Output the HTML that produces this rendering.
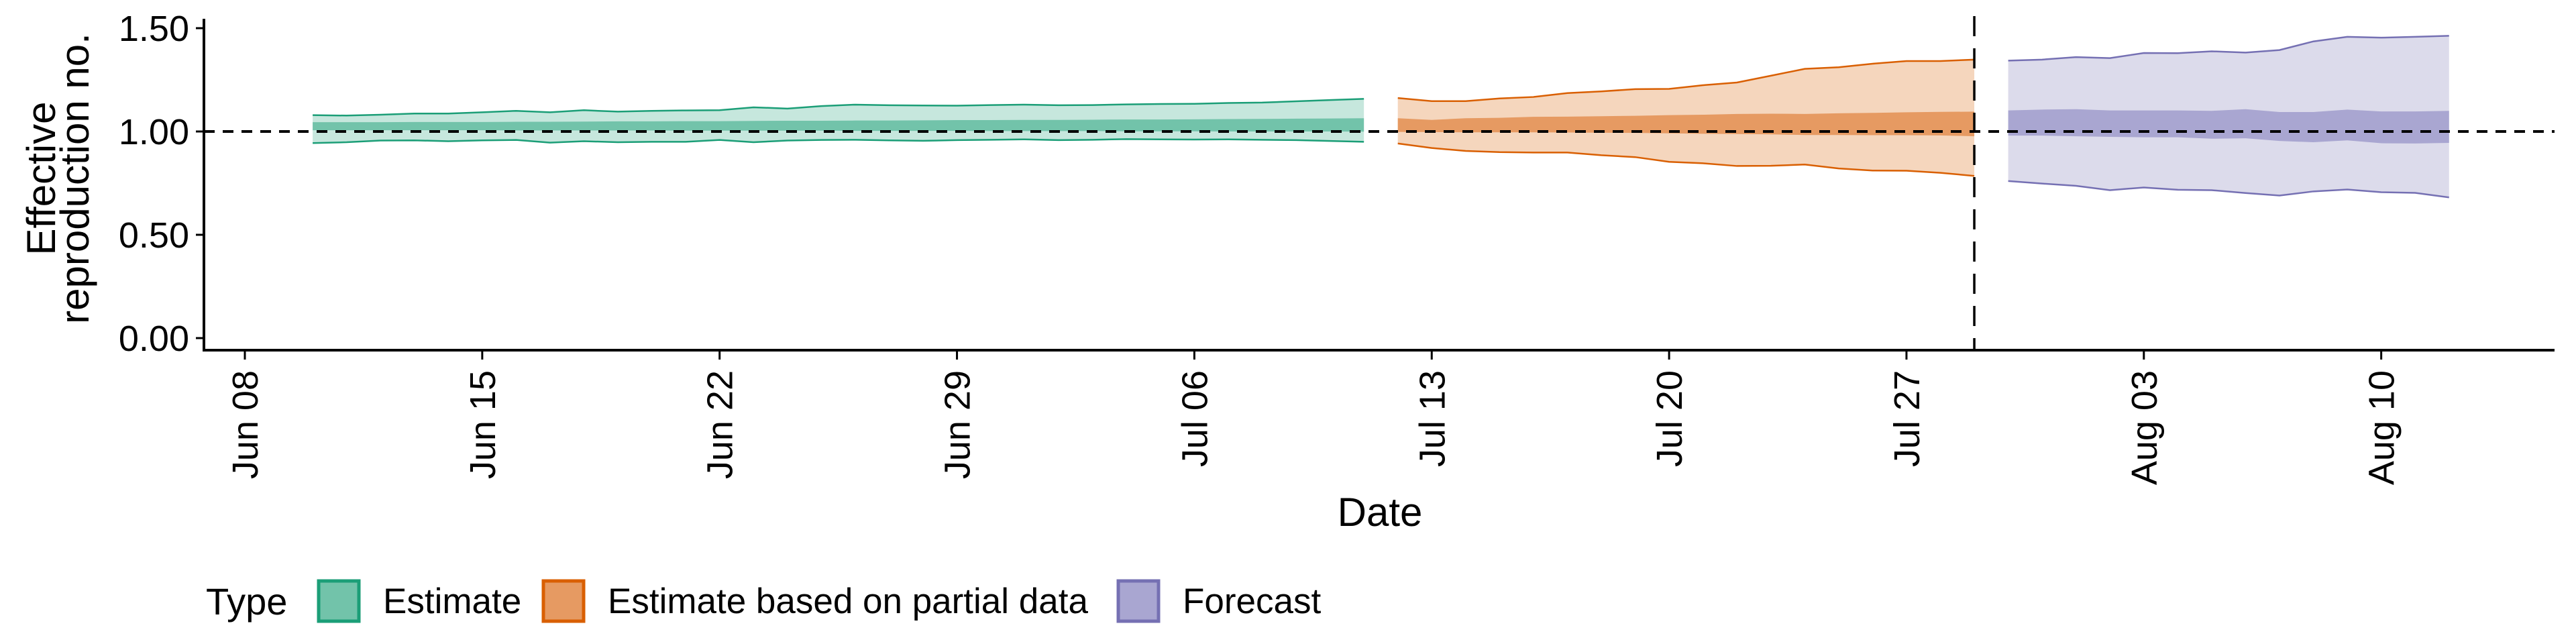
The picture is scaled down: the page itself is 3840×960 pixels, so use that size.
<!DOCTYPE html>
<html><head><meta charset="utf-8"><style>
html,body{margin:0;padding:0;background:#fff;}
svg{display:block;font-family:"Liberation Sans",sans-serif;}
</style></head><body>
<svg id="chart" width="3840" height="960" viewBox="0 0 3840 960">
<g id="bands"></g>
<g id="axes"></g>
<g id="legend"></g>
</svg>
<script>
const startDate = Date.UTC(2020,5,8); // Jun 08
const tickLabels = ["Jun 08","Jun 15","Jun 22","Jun 29","Jul 06","Jul 13","Jul 20","Jul 27","Aug 03","Aug 10"];
const yTicks = [0,0.5,1.0,1.5];
const yTickLabels = ["0.00","0.50","1.00","1.50"];
const estimateStartDay = 2;
const estimateUpper = [1.079,1.077,1.081,1.087,1.087,1.093,1.100,1.093,1.103,1.096,1.100,1.102,1.103,1.117,1.111,1.123,1.130,1.127,1.126,1.125,1.128,1.130,1.127,1.128,1.131,1.133,1.134,1.138,1.140,1.146,1.152,1.158];
const estimateLower = [0.944,0.948,0.956,0.957,0.953,0.957,0.959,0.946,0.953,0.948,0.950,0.950,0.959,0.948,0.956,0.959,0.960,0.957,0.955,0.958,0.960,0.962,0.958,0.960,0.963,0.962,0.961,0.962,0.960,0.958,0.954,0.950];
const estimateInnerUpper = [1.045,1.045,1.045,1.046,1.046,1.046,1.047,1.047,1.048,1.049,1.049,1.050,1.050,1.051,1.052,1.052,1.053,1.053,1.054,1.055,1.055,1.056,1.056,1.057,1.058,1.058,1.059,1.060,1.061,1.062,1.063,1.064];
const estimateInnerLower = [1.006,1.006,1.006,1.006,1.006,1.006,1.005,1.005,1.005,1.005,1.005,1.004,1.004,1.004,1.004,1.004,1.003,1.003,1.003,1.003,1.002,1.002,1.002,1.002,1.001,1.001,1.001,1.000,1.000,1.000,1.000,0.999];
const partialStartDay = 34;
const partialUpper = [1.162,1.147,1.147,1.160,1.167,1.186,1.194,1.205,1.206,1.224,1.237,1.270,1.303,1.311,1.328,1.341,1.341,1.348];
const partialLower = [0.942,0.920,0.906,0.900,0.898,0.898,0.885,0.876,0.853,0.846,0.833,0.834,0.840,0.821,0.811,0.810,0.800,0.785];
const partialInnerUpper = [1.064,1.056,1.064,1.066,1.071,1.072,1.074,1.076,1.079,1.081,1.085,1.086,1.085,1.088,1.090,1.093,1.095,1.096];
const partialInnerLower = [0.998,0.997,0.996,0.996,0.996,0.995,0.994,0.993,0.991,0.989,0.988,0.986,0.983,0.983,0.982,0.982,0.981,0.977];
const forecastStartDay = 52;
const forecastUpper = [1.343,1.348,1.360,1.355,1.380,1.379,1.388,1.382,1.394,1.436,1.458,1.454,1.458,1.463];
const forecastLower = [0.760,0.748,0.737,0.716,0.729,0.718,0.716,0.702,0.690,0.710,0.719,0.706,0.703,0.681];
const forecastInnerUpper = [1.102,1.106,1.108,1.102,1.102,1.102,1.100,1.108,1.094,1.094,1.106,1.097,1.097,1.100];
const forecastInnerLower = [0.980,0.980,0.977,0.974,0.972,0.972,0.965,0.967,0.954,0.948,0.957,0.943,0.942,0.945];
const forecastCutDay = 51;

const NS="http://www.w3.org/2000/svg";
const X0=365, DAYW=50.55, Y0=504, YU=308;
const xs=d=>X0+d*DAYW;
const ys=v=>Y0-v*YU;
function mk(tag,attrs,parent){const e=document.createElementNS(NS,tag);for(const k in attrs)e.setAttribute(k,attrs[k]);parent.appendChild(e);return e;}
const bands=document.getElementById('bands'), axes=document.getElementById('axes'), legend=document.getElementById('legend');

function band(start,up,lo,fill,parent){
  let p=up.map((v,i)=>xs(start+i)+','+ys(v));
  for(let i=lo.length-1;i>=0;i--)p.push(xs(start+i)+','+ys(lo[i]));
  return mk('polygon',{points:p.join(' '),fill:fill},parent);
}
function line(start,vals,col,parent){
  return mk('polyline',{points:vals.map((v,i)=>xs(start+i)+','+ys(v)).join(' '),fill:'none',stroke:col,'stroke-width':2.5},parent);
}
const series=[
 {n:'estimate',s:estimateStartDay,u:estimateUpper,l:estimateLower,iu:estimateInnerUpper,il:estimateInnerLower,o:'#c6e7dd',i:'#72c3aa',c:'#1b9e77'},
 {n:'partial',s:partialStartDay,u:partialUpper,l:partialLower,iu:partialInnerUpper,il:partialInnerLower,o:'#f5d6bd',i:'#e69a62',c:'#d95f02'},
 {n:'forecast',s:forecastStartDay,u:forecastUpper,l:forecastLower,iu:forecastInnerUpper,il:forecastInnerLower,o:'#dcdbeb',i:'#a9a6d1',c:'#7570b3'}
];
series.forEach(S=>{
  const g=mk('g',{},bands);
  
  
  const a=band(S.s,S.u,S.l,S.o,g);
  
  
  const b=band(S.s,S.iu,S.il,S.i,g);
  
  
  const u=line(S.s,S.u,S.c,g);
  
  
  const l=line(S.s,S.l,S.c,g);
  
  
});
const h=mk('line',{x1:304,x2:3808,y1:ys(1),y2:ys(1),stroke:'#000','stroke-width':4,'stroke-dasharray':'16 12'},axes);


const v=mk('line',{x1:xs(forecastCutDay),x2:xs(forecastCutDay),y1:24,y2:522,stroke:'#000','stroke-width':3.5,'stroke-dasharray':'30 18'},axes);


const ya=mk('line',{x1:304,x2:304,y1:28,y2:524,stroke:'#000','stroke-width':4},axes);


const xa=mk('line',{x1:302,x2:3808,y1:522,y2:522,stroke:'#000','stroke-width':4},axes);


yTicks.forEach((t,i)=>{
  const tk=mk('line',{x1:292,x2:304,y1:ys(t),y2:ys(t),stroke:'#000','stroke-width':3},axes);
  
  
  const tx=mk('text',{x:282,y:ys(t)+19,'text-anchor':'end','font-size':54,fill:'#000'},axes);
  tx.textContent=yTickLabels[i];
  
  
});
tickLabels.forEach((lab,i)=>{
  const x=xs(i*7);
  const tk=mk('line',{x1:x,x2:x,y1:524,y2:536,stroke:'#000','stroke-width':3},axes);
  
  
  const tx=mk('text',{x:0,y:0,'text-anchor':'end','font-size':54,fill:'#000',transform:`translate(${x+19},552) rotate(-90)`},axes);
  tx.textContent=lab;
  
  
});
const xt=mk('text',{x:2057,y:784,'text-anchor':'middle','font-size':60,fill:'#000'},axes);
xt.textContent='Date';


const yt=mk('text',{transform:'translate(0,266) rotate(-90)','text-anchor':'middle','font-size':60,fill:'#000'},axes);


const t1=mk('tspan',{x:0,y:82},yt);t1.textContent='Effective';
const t2=mk('tspan',{x:0,y:132},yt);t2.textContent='reproduction no.';
const lt=mk('text',{x:307,y:916,'font-size':56,fill:'#000'},legend);
lt.textContent='Type';


const legItems=[['Estimate',473,'#72c3aa','#1b9e77'],['Estimate based on partial data',808,'#e69a62','#d95f02'],['Forecast',1665,'#a9a6d1','#7570b3']];
legItems.forEach(it=>{
  const g=mk('g',{},legend);
  
  
  const r=mk('rect',{x:it[1]+2,y:866,width:60,height:60,fill:it[2],stroke:it[3],'stroke-width':5},g);
  
  
  const t=mk('text',{x:it[1]+98,y:914,'font-size':53,fill:'#000'},g);
  t.textContent=it[0];
  
  
});
</script>
</body></html>
